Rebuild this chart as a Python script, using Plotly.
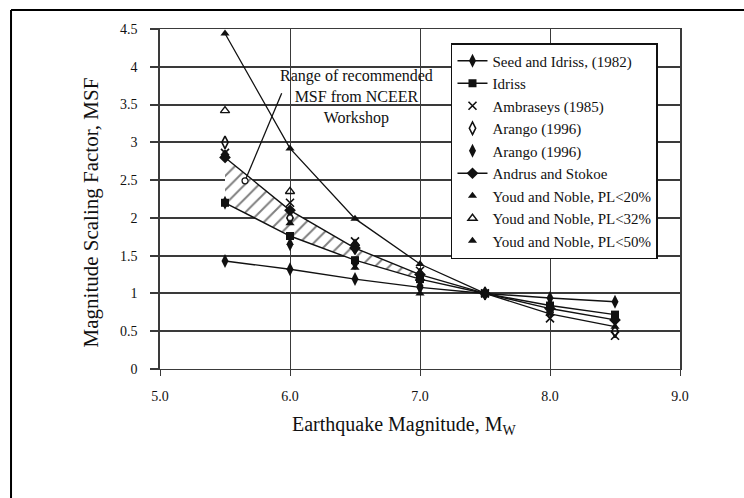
import plotly.graph_objects as go

# ---- data ----
magnitudes = [5.5, 6.0, 6.5, 7.0, 7.5, 8.0, 8.5]
seed_idriss_1982 = [1.43, 1.32, 1.19, 1.08, 1.00, 0.94, 0.89]
idriss = [2.20, 1.76, 1.44, 1.19, 1.00, 0.84, 0.72]
ambraseys_1985 = [2.86, 2.20, 1.69, 1.30, 1.00, 0.67, 0.44]
arango_distance = [3.00, 2.00, 1.60, 1.25, 1.00, 0.75, 0.50]
arango_energy = [2.20, 1.65, 1.40, 1.10, 1.00, 0.85, 0.65]
andrus_stokoe = [2.80, 2.10, 1.60, 1.25, 1.00, 0.80, 0.65]
youd_noble_magnitudes = [5.5, 6.0, 6.5, 7.0]
youd_noble_pl20 = [2.86, 1.93, 1.34, 1.00]
youd_noble_pl32 = [3.42, 2.35, 1.66, 1.20]
youd_noble_pl50 = [4.44, 2.92, 1.99, 1.39, 1.00, 0.73, 0.56]

band_count = 4  # NCEER range drawn from M 5.5 to 7.0

# pointer from the label to the hatched band
pointer_start = (5.936, 3.65)
pointer_end = (5.654, 2.49)

x_ticks = [5.0, 6.0, 7.0, 8.0, 9.0]
y_ticks = [0, 0.5, 1, 1.5, 2, 2.5, 3, 3.5, 4, 4.5]

FONT = "Liberation Serif"
INK = "#111111"
GRID = "#3a3a3a"

fig = go.Figure()

# hatched band (NCEER recommended range)
fig.add_trace(go.Scatter(
    x=magnitudes[:band_count], y=idriss[:band_count], mode="lines",
    line=dict(color="rgba(0,0,0,0)", width=0), showlegend=False, hoverinfo="skip"))
fig.add_trace(go.Scatter(
    x=magnitudes[:band_count], y=andrus_stokoe[:band_count], mode="lines",
    line=dict(color="rgba(0,0,0,0)", width=0), fill="tonexty",
    fillcolor="rgba(0,0,0,0)",
    fillpattern=dict(shape="/", fgcolor="#000000", bgcolor="white", size=10, solidity=0.2),
    showlegend=False, hoverinfo="skip"))

# Youd and Noble PL<50% connecting line (not in legend)
fig.add_trace(go.Scatter(
    x=magnitudes, y=youd_noble_pl50, mode="lines",
    line=dict(color=INK, width=1.3), showlegend=False, hoverinfo="skip"))

fig.add_trace(go.Scatter(
    x=magnitudes, y=seed_idriss_1982, mode="lines+markers", name="Seed and Idriss, (1982)",
    line=dict(color=INK, width=1.4),
    marker=dict(symbol="diamond-tall", size=10, color=INK)))
fig.add_trace(go.Scatter(
    x=magnitudes, y=idriss, mode="lines+markers", name="Idriss",
    line=dict(color=INK, width=1.4),
    marker=dict(symbol="square", size=8, color=INK)))
fig.add_trace(go.Scatter(
    x=magnitudes, y=ambraseys_1985, mode="markers", name="Ambraseys (1985)",
    marker=dict(symbol="x-thin-open", size=8, color=INK, line=dict(color=INK, width=1.6))))
fig.add_trace(go.Scatter(
    x=magnitudes, y=arango_distance, mode="markers", name="Arango (1996)",
    marker=dict(symbol="diamond-tall-open", size=9, color=INK, line=dict(color=INK, width=1.6))))
fig.add_trace(go.Scatter(
    x=magnitudes, y=arango_energy, mode="markers", name="Arango (1996) ",
    marker=dict(symbol="diamond-tall", size=10, color=INK)))
fig.add_trace(go.Scatter(
    x=magnitudes, y=andrus_stokoe, mode="lines+markers", name="Andrus and Stokoe",
    line=dict(color=INK, width=1.4),
    marker=dict(symbol="diamond", size=9, color=INK)))
fig.add_trace(go.Scatter(
    x=youd_noble_magnitudes, y=youd_noble_pl20, mode="markers", name="Youd and Noble, PL<20%",
    marker=dict(symbol="triangle-up", size=8, color=INK)))
fig.add_trace(go.Scatter(
    x=youd_noble_magnitudes, y=youd_noble_pl32, mode="markers", name="Youd and Noble, PL<32%",
    marker=dict(symbol="triangle-up-open", size=8, color=INK, line=dict(color=INK, width=1.4))))
fig.add_trace(go.Scatter(
    x=magnitudes, y=youd_noble_pl50, mode="markers", name="Youd and Noble, PL<50%",
    marker=dict(symbol="triangle-up", size=8, color=INK)))

fig.update_layout(
    width=744, height=498,
    margin=dict(l=160, r=64, t=29, b=129),
    paper_bgcolor="white", plot_bgcolor="white",
    font=dict(family=FONT, color=INK, size=13),
    showlegend=True,
    legend=dict(
        x=0.5596, y=0.9588, xanchor="left", yanchor="top",
        bgcolor="white", bordercolor=INK, borderwidth=1.5,
        font=dict(family=FONT, size=15, color=INK),
        traceorder="normal", tracegroupgap=0, itemwidth=30),
)

fig.update_xaxes(
    range=[5, 9], tickvals=x_ticks, ticktext=[f"{v:.1f}" for v in x_ticks],
    showgrid=True, gridcolor=GRID, gridwidth=1.3,
    showline=True, mirror=True, linecolor=GRID, linewidth=1.3,
    ticks="outside", ticklen=6, tickcolor=GRID, tickwidth=1.3,
    ticklabelstandoff=8, zeroline=False,
    tickfont=dict(family=FONT, size=14, color=INK))
fig.update_yaxes(
    range=[0, 4.5], tickvals=y_ticks, ticktext=[f"{v:g}" for v in y_ticks],
    showgrid=True, gridcolor=GRID, gridwidth=1.9,
    showline=True, mirror=True, linecolor=GRID, linewidth=1.6,
    ticks="outside", ticklen=8, tickcolor=GRID, tickwidth=1.9,
    ticklabelstandoff=10, zeroline=False,
    tickfont=dict(family=FONT, size=14, color=INK))

# axis titles
fig.add_annotation(
    text="Earthquake Magnitude, M<sub>W</sub>", xref="paper", yref="paper",
    x=0.471, y=-0.165, showarrow=False, xanchor="center", yanchor="middle",
    font=dict(family=FONT, size=20, color=INK))
fig.add_annotation(
    text="Magnitude Scaling Factor, MSF", xref="paper", yref="paper",
    x=-0.133, y=0.46, showarrow=False, textangle=-90, xanchor="center", yanchor="middle",
    font=dict(family=FONT, size=21, color=INK))

# NCEER range label
fig.add_annotation(
    text="Range of recommended<br>MSF from NCEER<br>Workshop", x=6.515, y=3.60,
    xref="x", yref="y", showarrow=False, align="center",
    font=dict(family=FONT, size=16, color=INK))

# pointer line with a small open circle at its end
fig.add_shape(type="line", xref="x", yref="y",
              x0=pointer_start[0], y0=pointer_start[1], x1=pointer_end[0], y1=pointer_end[1],
              line=dict(color=INK, width=1.3))
fig.add_shape(type="circle", xref="x", yref="y", xsizemode="pixel", ysizemode="pixel",
              xanchor=pointer_end[0], yanchor=pointer_end[1], x0=-3, x1=3, y0=-3, y1=3,
              line=dict(color=INK, width=1.2), fillcolor="white")

# outer frame (only top and left edges visible in the reference)
fig.add_shape(type="line", xref="paper", yref="paper", x0=-0.2865, x1=1.13,
              y0=1.0559, y1=1.0559, line=dict(color="black", width=2))
fig.add_shape(type="line", xref="paper", yref="paper", x0=-0.2865, x1=-0.2865,
              y0=1.0559, y1=-0.40, line=dict(color="black", width=2))

fig.write_html("out.html")
